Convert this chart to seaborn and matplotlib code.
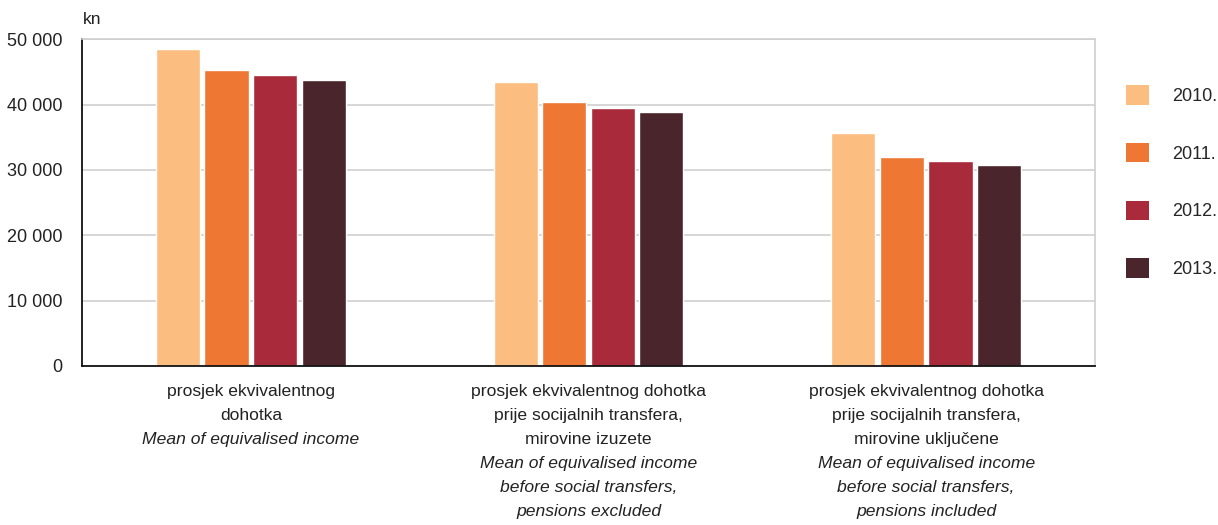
import matplotlib
matplotlib.use("Agg")
import matplotlib.pyplot as plt
import seaborn as sns
import pandas as pd
from matplotlib.patches import Patch
from matplotlib.ticker import FuncFormatter

# ---- data ----
categories = ["A", "B", "C"]
labels_hr = [
    ["prosjek ekvivalentnog", "dohotka"],
    ["prosjek ekvivalentnog dohotka", "prije socijalnih transfera,", "mirovine izuzete"],
    ["prosjek ekvivalentnog dohotka", "prije socijalnih transfera,", "mirovine uključene"],
]
labels_en = [
    ["Mean of equivalised income"],
    ["Mean of equivalised income", "before social transfers,", "pensions excluded"],
    ["Mean of equivalised income", "before social transfers,", "pensions included"],
]
years = ["2010.", "2011.", "2012.", "2013."]
values_2010 = [48550, 43400, 35670]
values_2011 = [45250, 40350, 32060]
values_2012 = [44520, 39430, 31330]
values_2013 = [43720, 38850, 30720]
colors = ["#FBBE80", "#EE7733", "#A92A3A", "#4A252B"]

series = [values_2010, values_2011, values_2012, values_2013]
rows = []
for y, vals in zip(years, series):
    for c, v in zip(categories, vals):
        rows.append({"cat": c, "year": y, "value": v})
df = pd.DataFrame(rows)

sns.set_theme(style="white")
plt.rcParams["font.family"] = ["Liberation Sans", "DejaVu Sans"]

fig = plt.figure(figsize=(12.18, 5.25), dpi=100)
ax = fig.add_axes([82 / 1218, 1 - 366 / 525, (1095 - 82) / 1218, (366 - 39.3) / 525])

sns.barplot(data=df, x="cat", y="value", hue="year", palette=colors,
            width=0.575, gap=0.09, ax=ax, legend=False, saturation=1,
            errorbar=None)

ax.set_xlim(-0.5, 2.5)
ax.set_ylim(0, 50000)
ax.set_yticks([0, 10000, 20000, 30000, 40000, 50000])
ax.yaxis.set_major_formatter(FuncFormatter(lambda v, p: f"{int(v):,}".replace(",", " ")))
ax.tick_params(axis="y", length=0, pad=14, labelsize=13, labelcolor="#222222")
ax.set_xticks([])
ax.set_xlabel("")
ax.set_ylabel("")
ax.grid(axis="y", color="#cfcfcf", linewidth=1.2)
ax.set_axisbelow(True)
for s in ["top", "right"]:
    ax.spines[s].set_color("#cfcfcf")
    ax.spines[s].set_linewidth(1.2)
for s in ["left", "bottom"]:
    ax.spines[s].set_color("#111111")
    ax.spines[s].set_linewidth(1.3)

fig.text(83 / 1218, 1 - 20 / 525, "kn", fontsize=12.5, color="#222222", va="center", ha="left")

# category labels
line_pt = 24 * 72 / 100
for i, c in enumerate(categories):
    lines = [(t, "normal") for t in labels_hr[i]] + [(t, "italic") for t in labels_en[i]]
    for j, (t, st) in enumerate(lines):
        ax.annotate(t, xy=(i, 0), xycoords=("data", "axes fraction"),
                    xytext=(0, -13 - j * line_pt), textcoords="offset points",
                    ha="center", va="top", fontsize=12.6, style=st, color="#222222")

handles = [Patch(facecolor=col, edgecolor="none") for col in colors]
fig.legend(handles, years, loc="upper left", bbox_to_anchor=(1126 / 1218, 1 - 85 / 525),
           frameon=False, fontsize=13, handlelength=1.3, handleheight=1.3,
           handletextpad=1.25, labelspacing=2.1, borderaxespad=0, borderpad=0)

fig.savefig("out.png", dpi=100)
